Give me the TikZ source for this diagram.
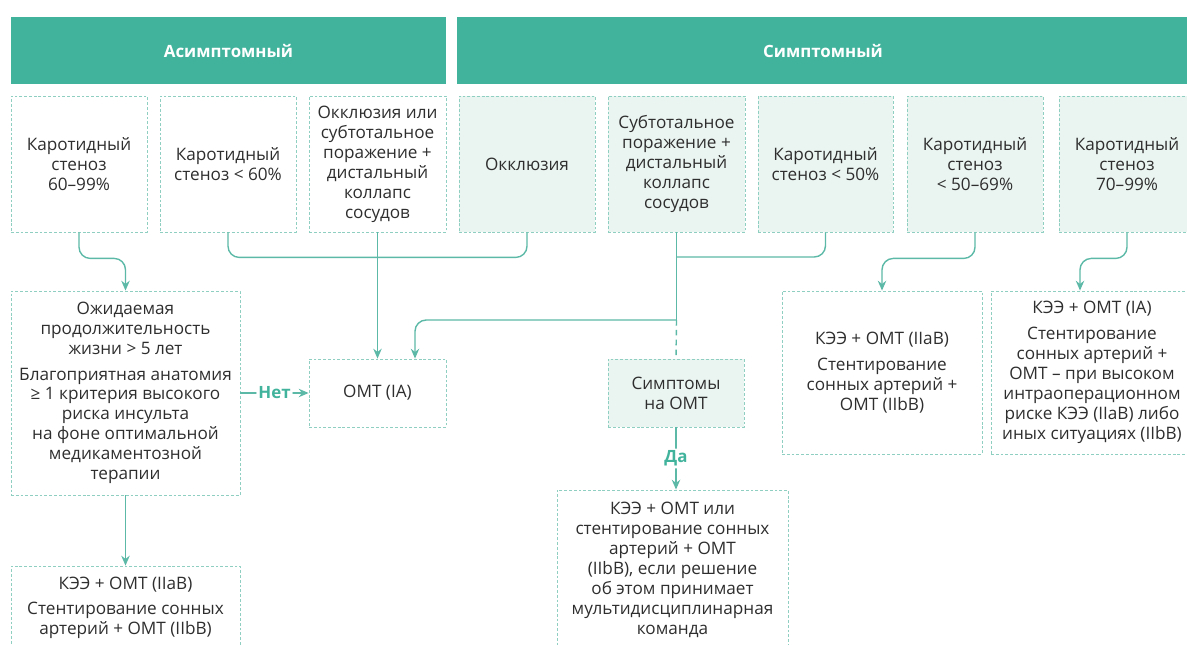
\documentclass[tikz,border=0pt]{standalone}
\usepackage{fontspec}
\setmainfont{Open Sans}
\usetikzlibrary{calc,arrows.meta}
\definecolor{tealhead}{HTML}{41B39C}
\definecolor{tealline}{HTML}{5DB9A7}
\definecolor{tealdash}{HTML}{8ECFC2}
\definecolor{tealfill}{HTML}{EAF4F1}
\definecolor{txtgray}{HTML}{2E2E2E}

\begin{document}
\begin{tikzpicture}[x=0.025cm, y=-0.025cm, font=\fontsize{12.2}{14.2}\selectfont,
		line join=round, >={Stealth[length=7pt,width=6pt]},
		sz/.style 2 args={minimum width=#1*0.025cm, minimum height=#2*0.025cm},
		head/.style={fill=tealhead, text=white, inner sep=0pt, font=\bfseries\fontsize{12}{14}\selectfont},
		box/.style={draw=tealdash, dash pattern=on 2pt off 1.4pt, line width=0.6pt, text=txtgray, align=center, inner sep=0pt},
		sbox/.style={box, fill=tealfill},
		conn/.style={draw=tealline, line width=1pt, rounded corners=8pt},
		lbl/.style={fill=white, text=tealhead, inner sep=1.5pt, font=\bfseries\fontsize{12}{14}\selectfont}]
	\useasboundingbox (0,0) rectangle (1187,644);
	
	% Заголовки
	\node[head, sz={435}{67}] (hA) at (228.5,50.5) {Асимптомный};
	\node[head, sz={732}{67}] (hS) at (823,50.5) {Симптомный};
	
	% Верхний ряд
	\node[box, sz={136}{136}] (a1) at (79,164) {Каротидный\\стеноз\\60–99\%};
	\node[box, sz={136}{136}] (a2) at (228,164) {Каротидный\\стеноз < 60\%};
	\node[box, sz={137}{136}] (a3) at (377.5,164) {Окклюзия или\\субтотальное\\поражение +\\дистальный\\коллапс\\сосудов};
	\node[sbox, sz={136}{136}] (s1) at (527,164) {Окклюзия};
	\node[sbox, sz={137}{136}] (s2) at (676.5,164) {Субтотальное\\поражение +\\дистальный\\коллапс\\сосудов};
	\node[sbox, sz={135}{136}] (s3) at (825.5,164) {Каротидный\\стеноз < 50\%};
	\node[sbox, sz={136}{136}] (s4) at (975,164) {Каротидный\\стеноз\\< 50–69\%};
	\node[sbox, sz={136}{136}] (s5) at (1127,164) {Каротидный\\стеноз\\70–99\%};
	
	% Второй ряд
	\node[box, sz={229}{204}] (q) at (125.5,393) {Ожидаемая\\продолжительность\\жизни > 5 лет\\[4pt]Благоприятная анатомия\\≥ 1 критерия высокого\\риска инсульта\\на фоне оптимальной\\медикаментозной\\терапии};
	\node[box, sz={137}{68}] (omt) at (377.5,393) {ОМТ (IA)};
	\node[sbox, sz={136}{68}] (sym) at (676,393) {Симптомы\\на ОМТ};
	\node[box, sz={200}{163}] (r1) at (882,372.5) {КЭЭ + ОМТ (IIaB)\\[4pt]Стентирование\\сонных артерий +\\ОМТ (IIbB)};
	\node[box, sz={202}{163}] (r2) at (1092,372.5) {КЭЭ + ОМТ (IA)\\[4pt]Стентирование\\сонных артерий +\\ОМТ – при высоком\\интраоперационном\\риске КЭЭ (IIaB) либо\\иных ситуациях (IIbB)};
	
	% Нижний ряд
	\node[box, sz={229}{84}] (b1) at (125.5,608) {КЭЭ + ОМТ (IIaB)\\[4pt]Стентирование сонных\\артерий + ОМТ (IIbB)};
	\node[box, sz={231}{160}] (b2) at (672.5,570) {КЭЭ + ОМТ или\\стентирование сонных\\артерий + ОМТ\\(IIbB), если решение\\об этом принимает\\мультидисциплинарная\\команда};
	
	% Соединения
	\coordinate (j1) at (676.5,320);
	\coordinate (j2) at (676.5,257);
	\draw[conn,->] (a1.south) -- ++(0,26) -| (q.north);
	\draw[conn] (a2.south) -- ++(0,25) -| (s1.south);
	\draw[conn,->] (a3.south) -- (omt.north);
	\draw[conn] (s2.south) -- (j1);
	\draw[conn,->] (j1) -| ($(omt.north)+(37.5,0)$);
	\draw[conn, dash pattern=on 4pt off 3pt] (j1) -- (sym.north);
	\draw[conn] (s3.south) |- (j2);
	\draw[conn,->] (s4.south) -- ++(0,26) -| (r1.north);
	\draw[conn,->] (s5.south) -- ++(0,26) -| ($(r2.north)+(-12,0)$);
	\draw[conn,->] (q.east) -- node[lbl]{Нет} (omt.west);
	\draw[conn,->] (sym.south) -- node[lbl]{Да} (sym.south |- b2.north);
	\draw[conn,->] (q.south) -- (b1.north);
\end{tikzpicture}
\end{document}
